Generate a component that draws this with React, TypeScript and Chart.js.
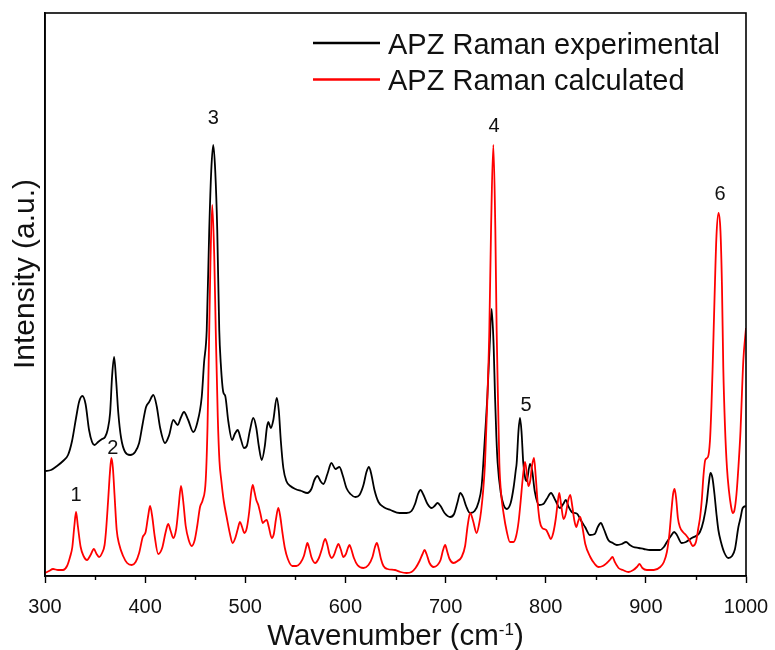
import React, { useEffect, useRef } from 'react';
import { Chart, registerables } from 'chart.js';

Chart.register(...registerables);

// ---- Data (intensity in arbitrary units) ----
const expWavenumber = [
  300, 306, 312, 318, 323, 327, 331, 334, 337.3, 340.5, 344, 347, 349.5, 353, 357, 360, 362.5, 365, 367, 369,
  371, 373.2, 376, 380, 385, 390, 394, 397.5, 400.9, 404, 408.2, 411.5, 415, 419.8, 424, 428.1, 432.5, 435.5, 438.8, 443,
  448.1, 452, 456.5, 458.8, 461.5, 464, 466, 468, 470, 472, 474, 475.5, 478, 480, 483, 486.8, 489.5, 492.4, 495.5, 498.7,
  501.5, 504.5, 508, 511, 513.5, 516.4, 519.5, 521.5, 523, 525.5, 528, 531.4, 533.5, 535.5, 538, 541, 545, 550, 556, 562,
  566, 569, 572, 575, 578, 582, 586, 590, 594, 597.5, 601, 605, 610, 614, 618, 621, 623.5, 626, 629, 633,
  638, 645, 654, 661, 666, 669.5, 672.5, 675, 678, 682, 686, 689, 692, 695, 699, 704.6, 708.5, 712, 714.6, 717.5,
  720.5, 724.4, 729, 733, 736, 737.7, 740, 741.7, 744, 746, 748, 749.4, 750.7, 752, 755, 758, 761, 765, 768, 770,
  771, 772.8, 774.3, 775.8, 777.6, 779.5, 781, 784.3, 786.5, 789, 793.3, 797.6, 801, 805.3, 809.5, 814.3, 817.5, 820, 823, 826,
  829, 831.6, 835.5, 839.3, 844.2, 849, 852, 855, 858, 862.5, 867, 871, 876, 880.2, 884, 887.5, 893, 898, 904, 909,
  914, 918, 921, 925, 928.3, 931, 935.8, 940, 945.8, 950, 954, 957.5, 960.7, 962.8, 964.5, 966.5, 968.5, 970.5, 972.4, 975,
  978.5, 982.4, 986, 989, 992.4, 994.5, 996.7, 1000,
];
const expIntensity = [
  105, 106, 110, 115, 121, 135, 158, 174, 180, 172, 146, 134, 131, 134, 137, 139, 146, 163, 200, 219,
  196, 163, 138, 124, 121, 124, 133, 152, 169, 174, 181, 170, 148, 133, 141, 156, 151, 158, 164, 156,
  144, 153, 179, 213, 246, 346, 405, 431, 405, 346, 246, 213, 184, 180, 155, 136, 142, 146, 137, 128,
  130, 145, 158, 148, 130, 116, 130, 148, 154, 148, 156, 178, 165, 135, 108, 95, 90, 87, 85, 83,
  87, 96, 100, 95, 92, 102, 113, 107, 109, 100, 88, 82, 79, 81, 91, 104, 109, 101, 86, 74,
  69, 66, 63, 63, 65, 72, 82, 86, 81, 72, 68, 70, 73, 70, 63, 59, 62, 74, 83, 79,
  70, 63, 65, 74, 90, 113, 150, 179, 230, 267, 230, 179, 140, 113, 84, 71, 67, 73, 89, 105,
  113, 145, 158, 145, 113, 98, 95, 112, 105, 85, 71, 72, 77, 83, 76, 68, 72, 76, 69, 64,
  63, 62, 55, 49, 41, 42, 49, 53, 47, 36, 33, 31, 32, 34, 31, 29, 28, 27, 26, 26,
  26, 29, 34, 40, 44, 41, 33, 34, 38, 40, 44, 55, 73, 92, 103, 98, 82, 62, 46, 34,
  23, 18, 20, 27, 49, 58, 68, 70,
];

const calcWavenumber = [
  300, 304, 308, 313, 318, 322, 325, 327.3, 329.3, 331, 332.8, 335.6, 338.5, 342, 345.5, 348.8, 351.5, 354, 357, 359.5,
  361, 363, 364.8, 366.3, 367.8, 369.5, 371.6, 374, 378, 382, 386.6, 390.5, 394, 397.6, 400.5, 403, 404.9, 407, 409.5, 413,
  417, 420.5, 423, 425.5, 428, 431, 433.5, 435.8, 438, 440.5, 443.5, 446.5, 449.5, 452, 454.8, 457.5, 460.5, 462.3, 464, 465.2,
  467, 469, 470.5, 472.5, 474.2, 476, 478.5, 481.4, 484.5, 487.4, 490, 492.5, 494.7, 496.8, 499, 501.5, 504, 505.8, 507.4, 509.2,
  511, 513, 515.2, 517.4, 519.5, 521.4, 523.5, 526.4, 528.5, 530.5, 533, 535, 537, 539.5, 542.5, 547, 551, 555, 558.5, 560.5,
  562, 563.8, 566, 569.7, 573.5, 576.5, 579.7, 582, 584, 586.4, 589, 591, 593, 595.2, 598, 600.5, 602.5, 604, 605.8, 608.5,
  612, 618, 623, 627, 629.5, 631.4, 633.3, 635.5, 638, 642, 649.6, 655, 661, 666, 670, 674, 677, 679, 681, 684,
  688, 692, 695, 697.5, 699.6, 701.5, 704, 708, 712, 716, 719.5, 722, 724.6, 727.5, 731, 733.5, 735.5, 737.5, 739.4, 741.5,
  743.7, 745.4, 747.7, 749.7, 751, 752.5, 753.7, 755.5, 758, 761, 764.3, 767.8, 770.5, 773, 775, 777, 779.3, 781, 782.6, 784.5,
  786.3, 788.3, 790, 791.8, 794, 796.5, 800.5, 803, 805, 807.5, 810, 811.8, 813.5, 815.3, 817.8, 820, 822.3, 824.5, 826.5, 828.5,
  830.5, 832.5, 834.5, 836.8, 839.5, 844.5, 849, 852.8, 857, 861, 864, 866.7, 869, 872.7, 877, 882.7, 887.5, 891, 893.7, 896.5,
  901, 908, 914.4, 918, 921, 923.5, 925.5, 927.2, 928.7, 930.3, 932, 934, 937, 940, 943.5, 947, 950, 952.4, 954.3, 956,
  957.5, 959.3, 962, 964, 965.5, 966.7, 968.5, 970.5, 972.6, 974.5, 976, 977.3, 979, 981, 983, 985, 986.7, 988.5, 990.5, 992.5,
  994.5, 995.7, 997.3, 1000,
];
const calcIntensity = [
  3, 5, 7, 6, 6, 10, 19, 29, 50, 64, 50, 29, 20, 16, 21, 27, 22, 19, 23, 31,
  46, 75, 103, 118, 108, 80, 46, 32, 20, 13, 11, 14, 23, 39, 44, 60, 70, 60, 40, 22,
  28, 44, 52, 45, 38, 47, 70, 90, 75, 50, 36, 30, 36, 50, 69, 76, 96, 150, 246, 313,
  371, 320, 246, 160, 115, 96, 75, 59, 43, 33, 38, 47, 54, 49, 43, 48, 65, 83, 91, 84,
  76, 71, 62, 53, 55, 56, 49, 38, 42, 56, 68, 59, 44, 28, 17, 10, 10, 13, 20, 28,
  33, 28, 19, 13, 18, 27, 37, 31, 22, 18, 22, 28, 32, 27, 19, 22, 28, 31, 27, 18,
  11, 8, 11, 19, 29, 33, 27, 17, 10, 7, 6, 4, 3, 4, 8, 15, 22, 26, 22, 13,
  9, 11, 16, 26, 31, 25, 17, 13, 15, 19, 30, 50, 63, 55, 43, 52, 65, 85, 113, 170,
  246, 346, 431, 346, 246, 170, 113, 82, 62, 45, 34, 34, 40, 55, 75, 97, 114, 104, 90, 95,
  110, 118, 100, 75, 55, 48, 46, 41, 37, 43, 57, 72, 83, 72, 57, 62, 75, 81, 70, 56,
  49, 55, 59, 48, 32, 19, 12, 9, 10, 13, 16, 19, 14, 8, 6, 4, 6, 9, 12, 8,
  6, 6, 9, 14, 24, 42, 65, 82, 87, 77, 58, 49, 44, 41, 36, 30, 34, 48, 60, 78,
  100, 116, 119, 135, 170, 209, 275, 340, 363, 345, 290, 209, 150, 108, 85, 70, 63, 66, 82, 110,
  145, 176, 215, 248,
];

const seriesLabels = ['APZ Raman experimental', 'APZ Raman calculated'];
const seriesColors = ['#000000', '#ff0000'];

const xMin = 300;
const xMax = 1000;
const xMajorStep = 100;
const yMin = 0;
const yMax = 563;

const peakLabels = ['1', '2', '3', '4', '5', '6'];
const peakLabelWavenumber = [331, 367.6, 468.1, 748.4, 780.3, 974.1];
const peakLabelIntensity = [81, 128, 458, 450, 171, 382];

const xTitleMain = 'Wavenumber (cm';
const xTitleSup = '-1';
const xTitleEnd = ')';
const yTitle = 'Intensity (a.u.)';

const FONT = '"Liberation Sans", Arial, Helvetica, sans-serif';

const decorPlugin = {
  id: 'decor',
  afterDraw(chart: any) {
    const { ctx, chartArea: a, scales } = chart;
    const xs = scales.x;
    const ys = scales.y;
    ctx.save();

    // frame box
    ctx.strokeStyle = '#000';
    ctx.lineWidth = 1.6;
    ctx.strokeRect(a.left, a.top, a.right - a.left, a.bottom - a.top);

    // minor ticks (half way between majors)
    ctx.lineWidth = 1.4;
    for (let v = xMin + xMajorStep / 2; v < xMax; v += xMajorStep) {
      const px = Math.round(xs.getPixelForValue(v)) + 0.5;
      ctx.beginPath();
      ctx.moveTo(px, a.bottom);
      ctx.lineTo(px, a.bottom + 4);
      ctx.stroke();
    }

    // peak labels
    ctx.fillStyle = '#111';
    ctx.font = `20px ${FONT}`;
    ctx.textAlign = 'center';
    ctx.textBaseline = 'middle';
    peakLabels.forEach((t, i) => {
      ctx.fillText(t, xs.getPixelForValue(peakLabelWavenumber[i]), ys.getPixelForValue(peakLabelIntensity[i]));
    });

    // legend (inside plot, top right)
    ctx.font = `29px ${FONT}`;
    ctx.textAlign = 'left';
    ctx.textBaseline = 'alphabetic';
    chart.data.datasets.forEach((ds: any, i: number) => {
      const yLine = a.top + 30 + i * 36.5;
      ctx.strokeStyle = ds.borderColor;
      ctx.lineWidth = 2.5;
      ctx.beginPath();
      ctx.moveTo(313, yLine);
      ctx.lineTo(380, yLine);
      ctx.stroke();
      ctx.fillStyle = '#111';
      ctx.fillText(ds.label, 388, yLine + 10.8);
    });

    // x title with superscript
    const cx = (a.left + a.right) / 2;
    const baseY = 645;
    ctx.fillStyle = '#111';
    ctx.font = `29.5px ${FONT}`;
    const w1 = ctx.measureText(xTitleMain).width;
    const w3 = ctx.measureText(xTitleEnd).width;
    ctx.font = `17px ${FONT}`;
    const w2 = ctx.measureText(xTitleSup).width;
    let x0 = cx - (w1 + w2 + w3) / 2;
    ctx.font = `29.5px ${FONT}`;
    ctx.fillText(xTitleMain, x0, baseY);
    x0 += w1;
    ctx.font = `17px ${FONT}`;
    ctx.fillText(xTitleSup, x0, baseY - 10);
    x0 += w2;
    ctx.font = `29.5px ${FONT}`;
    ctx.fillText(xTitleEnd, x0, baseY);

    // y title
    ctx.translate(34, 274);
    ctx.rotate(-Math.PI / 2);
    ctx.textAlign = 'center';
    ctx.font = `30px ${FONT}`;
    ctx.fillText(yTitle, 0, 0);

    ctx.restore();
  },
};

export default function App() {
  const canvasRef = useRef<HTMLCanvasElement | null>(null);

  useEffect(() => {
    const canvas = canvasRef.current;
    if (!canvas) return;
    const expData = expWavenumber.map((x, i) => ({ x, y: expIntensity[i] }));
    const calcData = calcWavenumber.map((x, i) => ({ x, y: calcIntensity[i] }));

    const chart = new Chart(canvas, {
      type: 'line',
      data: {
        datasets: [
          {
            label: seriesLabels[0],
            data: expData,
            borderColor: seriesColors[0],
            backgroundColor: seriesColors[0],
            borderWidth: 1.8,
            pointRadius: 0,
            cubicInterpolationMode: 'monotone',
            order: 1,
          },
          {
            label: seriesLabels[1],
            data: calcData,
            borderColor: seriesColors[1],
            backgroundColor: seriesColors[1],
            borderWidth: 1.8,
            pointRadius: 0,
            cubicInterpolationMode: 'monotone',
            order: 0,
          },
        ],
      },
      options: {
        animation: false,
        responsive: false,
        maintainAspectRatio: false,
        layout: { padding: { top: 13, right: 29, left: 0, bottom: 0 } },
        plugins: {
          legend: { display: false },
          tooltip: { enabled: false },
        },
        scales: {
          x: {
            type: 'linear',
            min: xMin,
            max: xMax,
            afterFit: (s: any) => {
              s.height = 74;
              s.paddingLeft = 0;
              s.paddingRight = 0;
            },
            ticks: {
              stepSize: xMajorStep / 2,
              autoSkip: false,
              maxRotation: 0,
              minRotation: 0,
              padding: 12,
              color: '#111',
              font: { size: 20, family: FONT },
              callback: (v: any) => (Number(v) % xMajorStep === 0 ? String(v) : ''),
            },
            grid: {
              display: true,
              drawOnChartArea: false,
              drawTicks: true,
              tickLength: 7,
              tickWidth: 1.4,
              tickColor: (c: any) =>
                c.tick && Number(c.tick.value) % xMajorStep === 0 ? '#000' : 'rgba(0,0,0,0)',
            },
            border: { display: true, color: '#000', width: 1.6 },
            title: { display: false },
          },
          y: {
            type: 'linear',
            min: yMin,
            max: yMax,
            afterFit: (s: any) => {
              s.width = 45;
            },
            ticks: { display: false },
            grid: { display: false, drawTicks: false },
            border: { display: true, color: '#000', width: 1.6 },
            title: { display: false },
          },
        },
      },
      plugins: [decorPlugin],
    });

    return () => {
      chart.destroy();
    };
  }, []);

  return (
    <div style={{ position: 'fixed', left: 0, top: 0, width: 775, height: 650, background: '#fff' }}>
      <canvas ref={canvasRef} width={775} height={650} style={{ display: 'block', width: 775, height: 650 }} />
    </div>
  );
}
